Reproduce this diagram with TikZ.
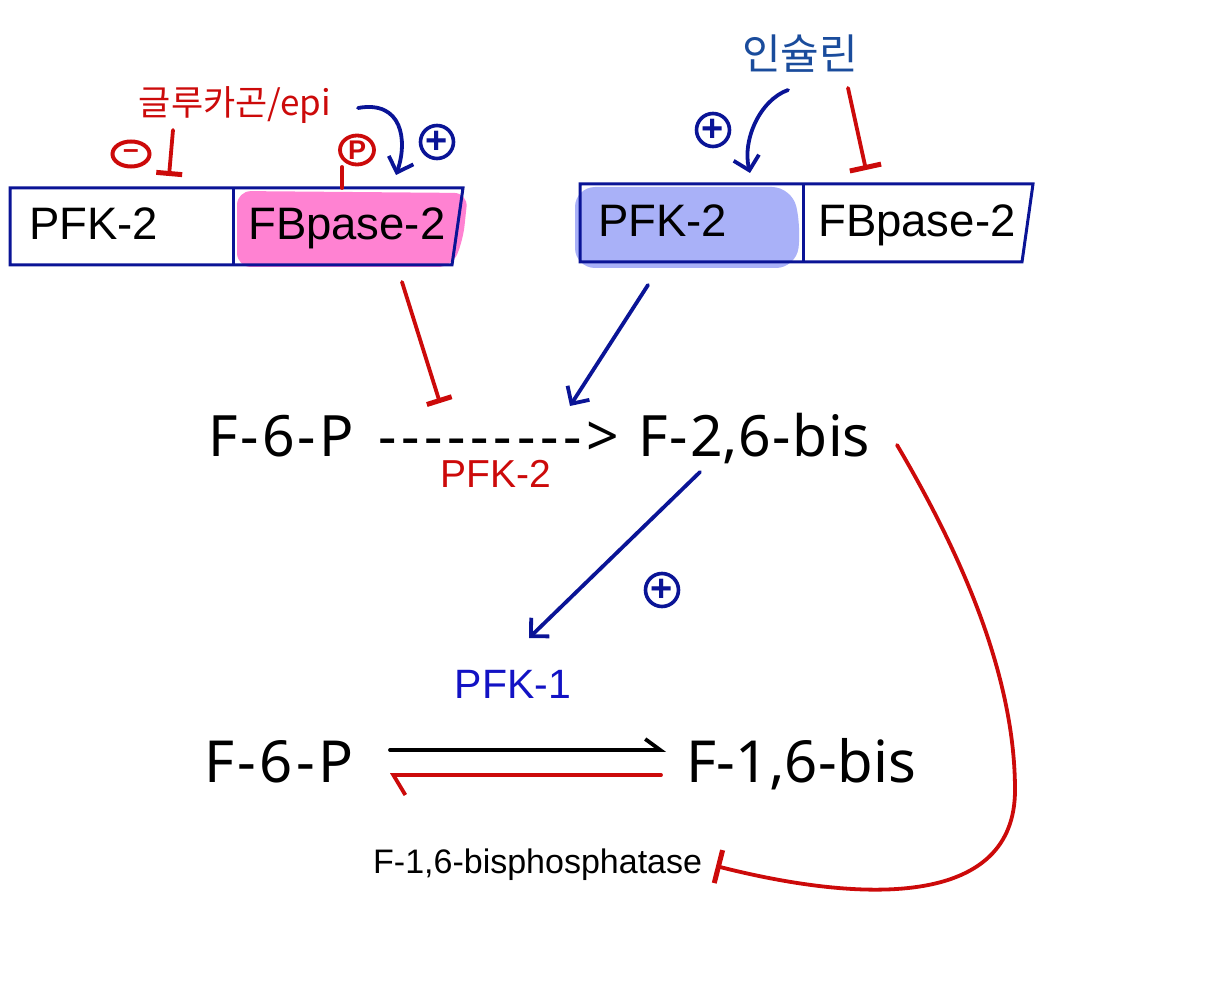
\documentclass[tikz,border=0pt]{standalone}
\usepackage{fontspec}
\newfontfamily\fArial{Liberation Sans}
\newfontfamily\fNoto{Noto Sans}
\newfontfamily\fKor{Noto Sans CJK KR}
\usetikzlibrary{arrows.meta,shapes.geometric}
\definecolor{navy}{HTML}{0A1496}
\definecolor{redink}{HTML}{CC0A0A}
\definecolor{pinkfill}{HTML}{FF82D2}
\definecolor{bluefill}{HTML}{A9B1F8}
\definecolor{krblue}{HTML}{1A4C9C}
\definecolor{pfkblue}{HTML}{1212C4}
\newcommand{\hy}[1]{\kern#1-\kern#1}
\begin{document}
\begin{tikzpicture}[x=1pt,y=-1pt,
  boxline/.style={draw=navy,line width=3pt,line join=miter},
  boxtext/.style={inner sep=0pt,anchor=base west,font=\fArial\fontsize{45.5}{45.5}\selectfont},
  bigtext/.style={inner sep=0pt,anchor=base west,text depth=0pt,font=\fNoto\fontsize{57}{57}\selectfont},
  bigtextb/.style={inner sep=0pt,anchor=base west,text depth=0pt,font=\fNoto\fontsize{58}{58}\selectfont},
  pen/.style={line width=3.8pt,line cap=round,line join=round},
  actarrow/.style={pen,draw=navy,-{Straight Barb[length=13pt,width=26pt]}},
  inhib/.style={pen,draw=redink,-{Bar[width=26pt,line width=5pt]}},
  plussign/.style={circle,draw=navy,line width=3.6pt,inner sep=0pt,minimum size=33pt,text=navy,font=\fArial\bfseries\fontsize{38}{38}\selectfont},
]
\useasboundingbox (0,0) rectangle (1215,1000);

% highlight fills
\fill[pinkfill,rounded corners=14pt] (237,191) -- (468,193) -- (463,240) -- (452,267) -- (237,267) -- cycle;
\fill[bluefill,rounded corners=20pt] (575,187) -- (792,187) -- (801,228) -- (796,268) -- (575,268) -- cycle;

% left bifunctional enzyme
\draw[boxline] (10,188) -- (463,188) -- (452,265) -- (10,265) -- cycle;
\draw[boxline] (233,188) -- (233,265);
\node[boxtext] (pfkL) at (29,240) {PFK-2};
\node[boxtext] (fbL) at (248,240) {FBpase-2};

% right bifunctional enzyme
\draw[boxline] (580,184) -- (1033,184) -- (1022,262) -- (580,262) -- cycle;
\draw[boxline] (803,184) -- (803,262);
\node[boxtext] (pfkR) at (598,237) {PFK-2};
\node[boxtext] (fbR) at (818,237) {FBpase-2};

% hormone labels
\node[inner sep=0pt,anchor=base,text=redink,font=\fKor\fontsize{35}{35}\selectfont] (gluc) at (235,116) {글루카곤/epi};
\node[inner sep=0pt,anchor=base,text=krblue,font=\fKor\fontsize{42}{42}\selectfont] (ins) at (800,70) {인슐린};

% glucagon annotations
\node[ellipse,draw=redink,line width=4pt,minimum width=37pt,minimum height=25pt,inner sep=0pt,text=redink,font=\fArial\bfseries\fontsize{28}{28}\selectfont] (minus) at (131,154) {–};
\coordinate (g1) at (173,130);
\coordinate (g2) at (169,176);
\draw[inhib] (g1) -- (g2);

\node[ellipse,draw=redink,line width=3.8pt,minimum width=34pt,minimum height=29pt,inner sep=0pt,text=redink,font=\fArial\bfseries\fontsize{27}{27}\selectfont] (phos) at (357,150) {P};
\coordinate (p1) at (342,167);
\coordinate (p2) at (342,188);
\draw[pen,draw=redink] (p1) -- (p2);

\coordinate (e1) at (358,108);
\coordinate (e2) at (396,175);
\draw[actarrow] (e1) .. controls (402,100) and (408,140) .. (e2);
\node[plussign] (plusA) at (437,142) {+};

% insulin annotations
\node[plussign] (plusB) at (713,130) {+};
\coordinate (i1) at (788,90);
\coordinate (i2) at (750,173);
\draw[actarrow] (i1) .. controls (760,100) and (742,140) .. (i2);
\coordinate (i3) at (848,88);
\coordinate (i4) at (866,170);
\draw[inhib,-{Bar[width=32pt,line width=5pt]}] (i3) -- (i4);

% PFK-2 reaction
\node[bigtext] (f6pA) at (208,456) {F\hy{3pt}6\hy{3pt}P};
\node[bigtext] (dash) at (378,456) {-\kern4.8pt-\kern4.8pt-\kern4.8pt-\kern4.8pt-\kern4.8pt-\kern4.8pt-\kern4.8pt-\kern4.8pt-\kern4.8pt>};
\node[bigtext] (f26) at (638,456) {F\hy{2pt}2,6\hy{2pt}bis};
\node[inner sep=0pt,anchor=base,text height=28pt,text=redink,font=\fArial\fontsize{39}{39}\selectfont] (pfk2lab) at (496,487) {PFK-2};

\coordinate (m1) at (402,282);
\coordinate (m2) at (440,403);
\draw[inhib] (m1) -- (m2);
\coordinate (m3) at (648,285);
\coordinate (m4) at (570,406);
\draw[actarrow] (m3) -- (m4);

% F-2,6-bis activates PFK-1
\coordinate (a1) at (700,472);
\coordinate (a2) at (529,638);
\draw[actarrow] (a1) -- (a2);
\node[plussign] (plusC) at (662,590) {+};
\node[inner sep=0pt,anchor=base,text=pfkblue,font=\fArial\fontsize{41}{41}\selectfont] (pfk1lab) at (513,698) {PFK-1};

% PFK-1 reaction
\node[bigtextb] (f6pB) at (204,782) {F\hy{3.5pt}6\hy{3.5pt}P};
\node[bigtextb] (f16) at (686,782) {F\hy{0.5pt}1,6\hy{0.5pt}bis};
\coordinate (h1) at (390,750);
\coordinate (h2) at (666,750);
\draw[pen,draw=black,-{Straight Barb[left,length=15pt,width=22pt]}] (h1) -- (h2);
\coordinate (h3) at (661,775);
\coordinate (h4) at (390,775);
\draw[pen,draw=redink,-{Straight Barb[left,length=12pt,width=40pt]}] (h3) -- (h4);
\node[inner sep=0pt,anchor=base west,font=\fArial\fontsize{34}{34}\selectfont] (fbpase1) at (373,873) {F-1,6-bisphosphatase};

% F-2,6-bis inhibits F-1,6-bisphosphatase
\coordinate (r1) at (897,445);
\coordinate (r2) at (716,866);
\draw[inhib,-{Bar[width=34pt,line width=5pt]}] (r1) .. controls (965,560) and (1015,680) .. (1015,790) .. controls (1015,905) and (870,905) .. (r2);
\end{tikzpicture}
\end{document}
